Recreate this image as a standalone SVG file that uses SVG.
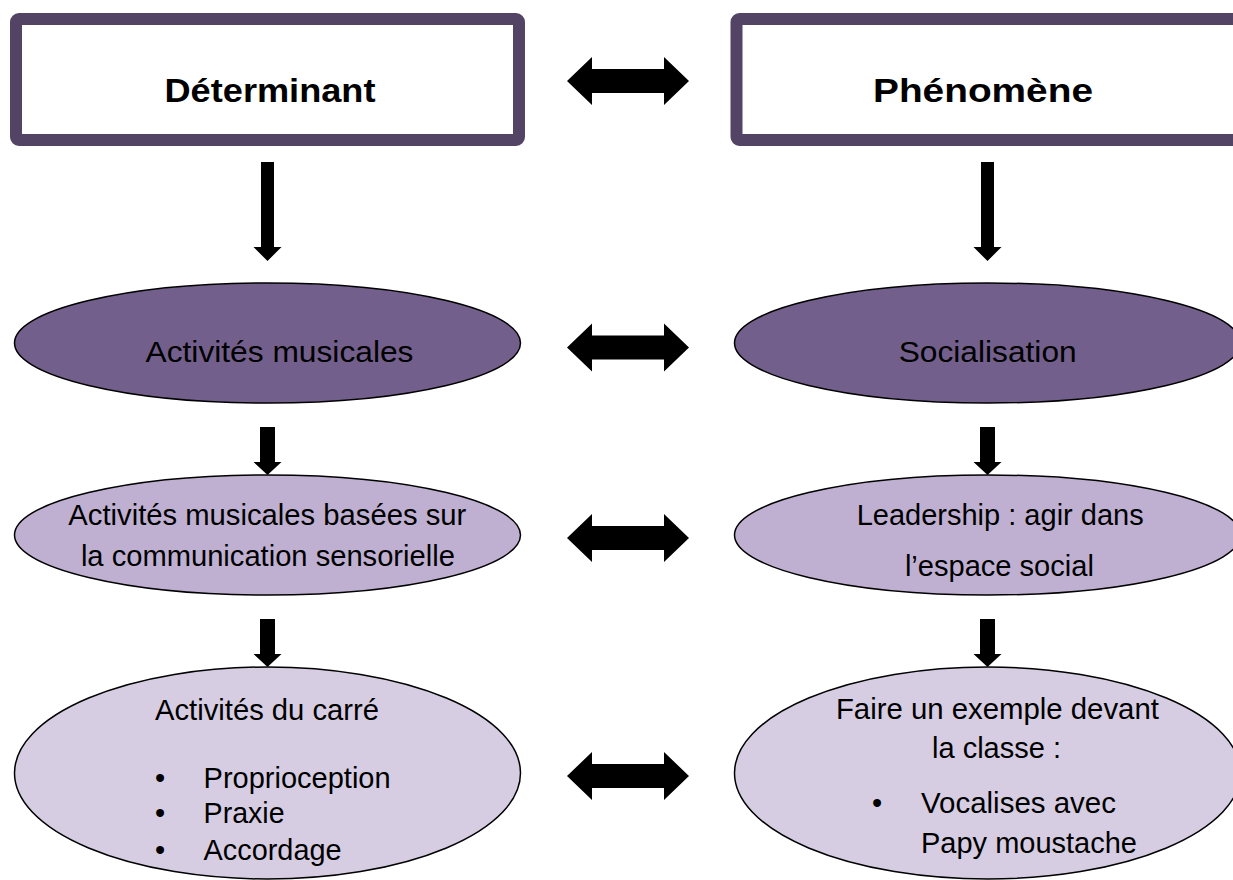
<svg xmlns="http://www.w3.org/2000/svg" width="1233" height="880" viewBox="0 0 1233 880">
<style>
.box{fill:#ffffff;stroke:#534466;stroke-width:12}
.e1{fill:#735F8B;stroke:#000;stroke-width:1.5}
.e2{fill:#BFB0D2;stroke:#000;stroke-width:1.5}
.e3{fill:#D6CDE2;stroke:#000;stroke-width:1.5}
.arr{fill:#000}
.tb{font-family:"Liberation Sans",Arial,sans-serif;font-weight:bold;font-size:34px;fill:#000}
.t{font-family:"Liberation Sans",Arial,sans-serif;font-size:29px;fill:#000}
</style>
<rect width="1233" height="880" fill="#ffffff"/>
<g id="connectors">
<path class="arr" d="M567,81 L592,57 L592,69 L664,69 L664,57 L689,81 L664,105 L664,93 L592,93 L592,105 Z"/>
<path class="arr" d="M567,347.5 L592,323.5 L592,335.5 L664,335.5 L664,323.5 L689,347.5 L664,371.5 L664,359.5 L592,359.5 L592,371.5 Z"/>
<path class="arr" d="M567,538 L592,514 L592,526 L664,526 L664,514 L689,538 L664,562 L664,550 L592,550 L592,562 Z"/>
<path class="arr" d="M567,776 L592,752 L592,764 L664,764 L664,752 L689,776 L664,800 L664,788 L592,788 L592,800 Z"/>
<path class="arr" d="M261,162 L274,162 L274,247 L281.5,247 L267.5,261 L253.5,247 L261,247 Z"/>
<path class="arr" d="M981,162 L994,162 L994,247 L1001.5,247 L987.5,261 L973.5,247 L981,247 Z"/>
<path class="arr" d="M260,427 L275,427 L275,462 L281.5,462 L267.5,475 L253.5,462 L260,462 Z"/>
<path class="arr" d="M980,427 L995,427 L995,462 L1001.5,462 L987.5,475 L973.5,462 L980,462 Z"/>
<path class="arr" d="M260,619 L275,619 L275,654 L281.5,654 L267.5,667 L253.5,654 L260,654 Z"/>
<path class="arr" d="M980,619 L995,619 L995,654 L1001.5,654 L987.5,667 L973.5,654 L980,654 Z"/>
</g>
<g id="determinant">
<rect class="box" x="16" y="19" width="503" height="121" rx="3"/>
<text class="tb" x="270" y="101.5" text-anchor="middle" textLength="211" lengthAdjust="spacingAndGlyphs">Déterminant</text>
</g>
<g id="phenomene">
<rect class="box" x="736.5" y="19" width="503" height="121" rx="3"/>
<text class="tb" x="983" y="101.5" text-anchor="middle" textLength="220" lengthAdjust="spacingAndGlyphs">Phénomène</text>
</g>
<g id="activites-musicales">
<ellipse class="e1" cx="267.5" cy="343" rx="253" ry="60"/>
<text class="t" x="279.5" y="361.5" text-anchor="middle" textLength="268" lengthAdjust="spacingAndGlyphs">Activités musicales</text>
</g>
<g id="socialisation">
<ellipse class="e1" cx="987.5" cy="343" rx="253" ry="60"/>
<text class="t" x="987.7" y="361.5" text-anchor="middle" textLength="178" lengthAdjust="spacingAndGlyphs">Socialisation</text>
</g>
<g id="activites-sensorielle">
<ellipse class="e2" cx="267.5" cy="535" rx="253" ry="60"/>
<text class="t" x="267.3" y="525" text-anchor="middle" textLength="398" lengthAdjust="spacingAndGlyphs">Activités musicales basées sur</text>
<text class="t" x="267.9" y="566" text-anchor="middle" textLength="374" lengthAdjust="spacingAndGlyphs">la communication sensorielle</text>
</g>
<g id="leadership">
<ellipse class="e2" cx="987.5" cy="535" rx="253" ry="60"/>
<text class="t" x="1000.2" y="525" text-anchor="middle" textLength="287" lengthAdjust="spacingAndGlyphs">Leadership : agir dans</text>
<text class="t" x="999.4" y="575.5" text-anchor="middle" textLength="189" lengthAdjust="spacingAndGlyphs">l’espace social</text>
</g>
<g id="activites-carre">
<ellipse class="e3" cx="267.5" cy="773" rx="253" ry="106"/>
<text class="t" x="155" y="720" textLength="224" lengthAdjust="spacingAndGlyphs">Activités du carré</text>
<text class="t" x="155" y="788">•</text>
<text class="t" x="203.6" y="788" textLength="187" lengthAdjust="spacingAndGlyphs">Proprioception</text>
<text class="t" x="155" y="823">•</text>
<text class="t" x="203.6" y="823" textLength="81" lengthAdjust="spacingAndGlyphs">Praxie</text>
<text class="t" x="155" y="860">•</text>
<text class="t" x="203.6" y="860" textLength="138" lengthAdjust="spacingAndGlyphs">Accordage</text>
</g>
<g id="faire-exemple">
<ellipse class="e3" cx="987.5" cy="773" rx="253" ry="106"/>
<text class="t" x="997.4" y="719" text-anchor="middle" textLength="323" lengthAdjust="spacingAndGlyphs">Faire un exemple devant</text>
<text class="t" x="996.5" y="758" text-anchor="middle" textLength="129" lengthAdjust="spacingAndGlyphs">la classe :</text>
<text class="t" x="872" y="813">•</text>
<text class="t" x="921" y="813" textLength="195" lengthAdjust="spacingAndGlyphs">Vocalises avec</text>
<text class="t" x="921" y="853" textLength="216" lengthAdjust="spacingAndGlyphs">Papy moustache</text>
</g>
</svg>
